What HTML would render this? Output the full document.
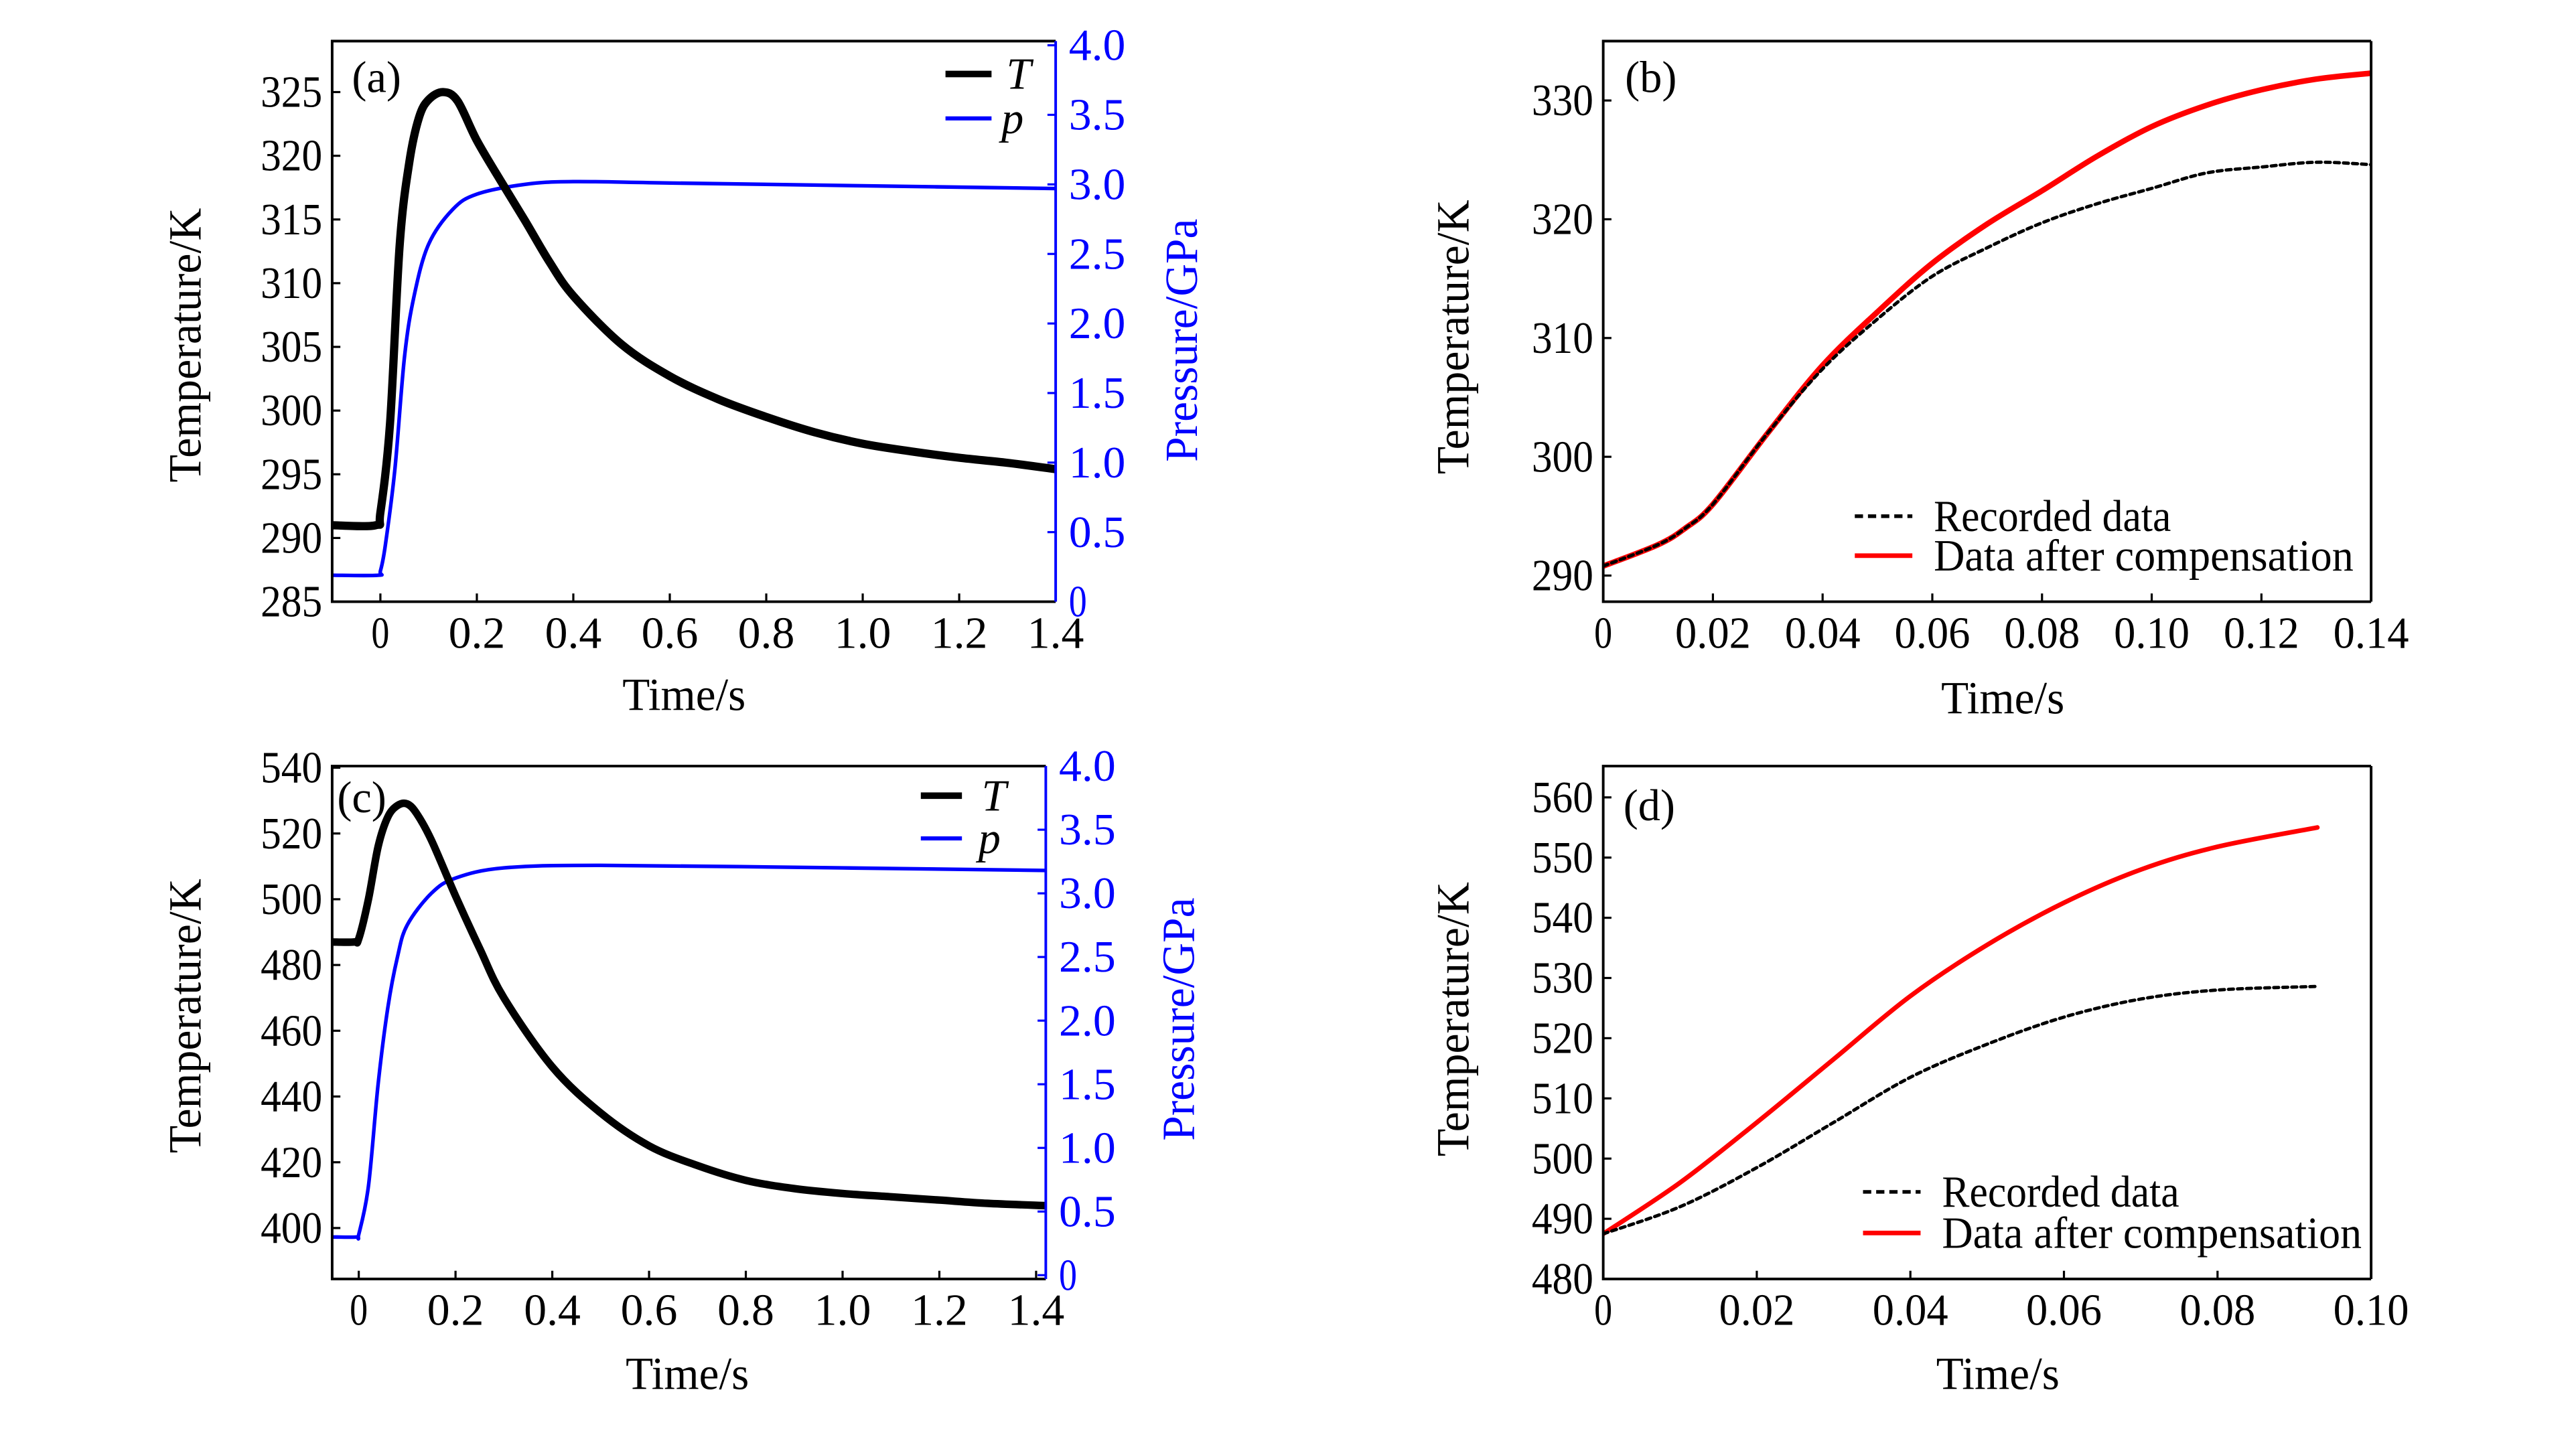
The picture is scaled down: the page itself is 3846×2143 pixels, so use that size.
<!DOCTYPE html>
<html><head><meta charset="utf-8"><style>
html,body{margin:0;padding:0;background:#fff}
svg{display:block}
text{font-family:"Liberation Serif",serif}
</style></head><body>
<svg id="fig" xmlns="http://www.w3.org/2000/svg" width="3846" height="2143" viewBox="0 0 1566.6 872.9">
<rect width="1566.6" height="872.9" fill="#fff"/>
</svg>
<script>
// ---- Panel (a) data ----
const aTx=[-0.1,-0.01,0.0,0.02,0.04,0.06,0.08,0.1,0.13,0.16,0.2,0.25,0.3,0.35,0.4,0.5,0.6,0.7,0.8,0.9,1.0,1.1,1.2,1.3,1.4];
const aTy=[291,291,292,299,313,319.5,323,324.4,325,324.3,321.2,318,314.9,311.7,309,305.2,302.7,300.9,299.5,298.3,297.4,296.8,296.3,295.9,295.4];
const aPx=[-0.1,-0.005,0.0,0.01,0.03,0.05,0.07,0.1,0.15,0.2,0.3,0.4,0.6,1.0,1.4];
const aPy=[0.19,0.19,0.22,0.4,0.95,1.76,2.2,2.57,2.82,2.93,3.0,3.02,3.01,2.99,2.97];
const aXt=["0","0.2","0.4","0.6","0.8","1.0","1.2","1.4"];
const aYt=["285","290","295","300","305","310","315","320","325"];
const aPt=["0","0.5","1.0","1.5","2.0","2.5","3.0","3.5","4.0"];
// ---- Panel (b) data ----
const bX=[0,0.01,0.015,0.02,0.03,0.04,0.05,0.06,0.07,0.08,0.09,0.1,0.11,0.12,0.13,0.14];
const bRed=[290.8,292.6,294,296,302,307.7,312.2,316.3,319.6,322.4,325.3,327.8,329.6,330.9,331.8,332.3];
const bRec=[290.8,292.6,294,296,302,307.4,311.6,315.2,317.6,319.7,321.3,322.6,323.9,324.4,324.8,324.6];
const bXt=["0","0.02","0.04","0.06","0.08","0.10","0.12","0.14"];
const bYt=["290","300","310","320","330"];
// ---- Panel (c) data ----
const cTx=[-0.055,-0.01,0.0,0.02,0.04,0.06,0.08,0.1,0.12,0.15,0.2,0.25,0.3,0.4,0.5,0.6,0.7,0.8,0.9,1.0,1.1,1.2,1.3,1.42];
const cTy=[487,487,488,500,516,525,528.5,529,526,518,501,485,470,449,435,425,419,414.5,412,410.5,409.5,408.5,407.5,406.8];
const cPx=[-0.055,-0.005,0.0,0.02,0.04,0.06,0.08,0.1,0.15,0.2,0.3,0.5,1.0,1.42];
const cPy=[0.3,0.3,0.32,0.7,1.5,2.1,2.5,2.75,3.0,3.12,3.2,3.22,3.2,3.18];
const cXt=["0","0.2","0.4","0.6","0.8","1.0","1.2","1.4"];
const cYt=["400","420","440","460","480","500","520","540"];
const cPt=["0","0.5","1.0","1.5","2.0","2.5","3.0","3.5","4.0"];
// ---- Panel (d) data ----
const dX=[0,0.01,0.02,0.03,0.04,0.05,0.06,0.07,0.08,0.093];
const dRed=[487.5,496,506,516.5,527,535.5,542.5,548,551.8,555];
const dRec=[487.5,492,498.5,506,513.5,519,523.5,526.5,528,528.6];
const dXt=["0","0.02","0.04","0.06","0.08","0.10"];
const dYt=["480","490","500","510","520","530","540","550","560"];

const NS="http://www.w3.org/2000/svg";
const svg=document.getElementById('fig');
function mk(tag,at,parent){const e=document.createElementNS(NS,tag);for(const k in at)e.setAttribute(k,at[k]);(parent||svg).appendChild(e);return e;}
function lin(d0,d1,r0,r1){return v=>r0+(v-d0)/(d1-d0)*(r1-r0);}
function pathD(xs,ys,sx,sy){
  const p=xs.map((x,i)=>[sx(x),sy(ys[i])]);
  let d="M"+p[0][0].toFixed(2)+","+p[0][1].toFixed(2);
  for(let i=0;i<p.length-1;i++){
    const p0=p[Math.max(0,i-1)],p1=p[i],p2=p[i+1],p3=p[Math.min(p.length-1,i+2)];
    const c1=[p1[0]+(p2[0]-p0[0])/6,p1[1]+(p2[1]-p0[1])/6];
    const c2=[p2[0]-(p3[0]-p1[0])/6,p2[1]-(p3[1]-p1[1])/6];
    d+="C"+c1[0].toFixed(2)+","+c1[1].toFixed(2)+" "+c2[0].toFixed(2)+","+c2[1].toFixed(2)+" "+p2[0].toFixed(2)+","+p2[1].toFixed(2);
  }
  return d;
}
function txt(x,y,s,opt,parent){
  const t=mk('text',Object.assign({x:x,y:y,'font-size':opt.fs||22,'text-anchor':opt.anchor||'middle',fill:opt.fill||'#000'},opt.extra||{}),parent);
  t.textContent=s;return t;
}
function panel(id,box,xr,yr,xt,yt,pr,pt){
  const g=mk('g',{});
  
  
  const sx=lin(xr[0],xr[1],box.l,box.r), sy=lin(yr[0],yr[1],box.b,box.t);
  const clip=mk('clipPath',{id:'clip-'+id},g);
  mk('rect',{x:box.l,y:box.t,width:box.r-box.l,height:box.b-box.t},clip);
  const plot=mk('g',{'clip-path':'url(#clip-'+id+')'},g);
  
  
  const xa=mk('g',{},g);
  
  
  xt.forEach(s=>{const v=parseFloat(s);const x=sx(v);
    mk('line',{x1:x,x2:x,y1:box.b,y2:box.b-5,stroke:'#000','stroke-width':1.3},xa);
    const t=txt(x,box.b+28,s,{fs:27,extra:{'textLength':s.length>1?s.length*11.5:11,'lengthAdjust':'spacingAndGlyphs'}},xa);
    
    
  });
  const ya=mk('g',{},g);
  
  
  yt.forEach(s=>{const v=parseFloat(s);const y=sy(v);
    mk('line',{x1:box.l,x2:box.l+5,y1:y,y2:y,stroke:'#000','stroke-width':1.3},ya);
    const t=txt(box.l-6,y+9,s,{fs:27,anchor:'end',extra:{'textLength':s.length*12.5,'lengthAdjust':'spacingAndGlyphs'}},ya);
    
    
  });
  let sp=null;
  if(pr){
    sp=lin(pr[0],pr[1],box.b,box.t);
    const pa=mk('g',{},g);
    
    
    pt.forEach(s=>{const v=parseFloat(s);const y=sp(v);
      mk('line',{x1:box.r,x2:box.r-5,y1:y,y2:y,stroke:'#0000ff','stroke-width':1.3},pa);
      const t=txt(box.r+8,y+9,s,{fs:27,anchor:'start',fill:'#0000ff',extra:{'textLength':s.length>1?s.length*11.5:11,'lengthAdjust':'spacingAndGlyphs'}},pa);
      
      
    });
  }
  mk('polyline',{points:`${box.r},${box.t} ${box.l},${box.t} ${box.l},${box.b} ${box.r},${box.b}`,fill:'none',stroke:'#000','stroke-width':1.6},g);
  mk('line',{x1:box.r,x2:box.r,y1:box.t,y2:box.b,stroke:pr?'#0000ff':'#000','stroke-width':1.6},g);
  return {g,plot,sx,sy,sp};
}
function series(P,xs,ys,scale,opts,name){
  const e=mk('path',Object.assign({d:pathD(xs,ys,P.sx,scale),fill:'none','stroke-linejoin':'round','stroke-linecap':'round'},opts),P.plot);
  
  
}
function legend(x1,x2,y,label,opts,tx,italic,name){
  const g=mk('g',{});
  
  
  mk('line',Object.assign({x1:x1,x2:x2,y1:y,y2:y},opts),g);
  txt(tx,y+9,label,{fs:27,anchor:'start',extra:italic?{'font-style':'italic'}:{'textLength':label.length*11.1,'lengthAdjust':'spacingAndGlyphs'}},g);
}
function title(x,y,s,rot,fill,name,len){
  const t=txt(x,y,s,{fs:28,fill:fill||'#000',extra:Object.assign(rot?{transform:`rotate(-90 ${x} ${y})`}:{},len?{'textLength':len,'lengthAdjust':'spacingAndGlyphs'}:{})});
  
  
}
// Panel a
const A=panel('a',{l:202,t:25,r:642,b:366},[-0.1,1.4],[285,329],aXt,aYt,[0,4.03],aPt);
series(A,aPx,aPy,A.sp,{stroke:'#0000ff','stroke-width':2.2},'pressure-line-a');
series(A,aTx,aTy,A.sy,{stroke:'#000','stroke-width':5},'temperature-line-a');
legend(575,603,45,'T',{stroke:'#000','stroke-width':4},612,true,'legend-T-a');
legend(575,603,72,'p',{stroke:'#0000ff','stroke-width':2.5},609,true,'legend-p-a');
txt(229,56,'(a)',{fs:27});
title(416,432,'Time/s',false,null,'x-axis-title-a',75);
title(122,210,'Temperature/K',true,null,'y-axis-title-a',167);
title(728,207,'Pressure/GPa',true,'#0000ff','pressure-axis-title-a',148);
// Panel b
const B=panel('b',{l:975,t:25,r:1442,b:366},[0,0.14],[287.8,335],bXt,bYt);
series(B,bX,bRed,B.sy,{stroke:'#ff0000','stroke-width':3.4},'compensated-line-b');
series(B,bX,bRec,B.sy,{stroke:'#000','stroke-width':2,'stroke-dasharray':'3 2.5'},'recorded-line-b');
legend(1128,1163,314,'Recorded data',{stroke:'#000','stroke-width':2.2,'stroke-dasharray':'5 3'},1176,false,'legend-recorded-b');
legend(1128,1163,338,'Data after compensation',{stroke:'#ff0000','stroke-width':2.8},1176,false,'legend-compensated-b');
txt(1004,56,'(b)',{fs:27});
title(1218,434,'Time/s',false,null,'x-axis-title-b',75);
title(893,205,'Temperature/K',true,null,'y-axis-title-b',167);
// Panel c
const C=panel('c',{l:202,t:466,r:636,b:778},[-0.055,1.42],[384.5,540.5],cXt,cYt,[-0.03,4.0],cPt);
series(C,cPx,cPy,C.sp,{stroke:'#0000ff','stroke-width':2.2},'pressure-line-c');
series(C,cTx,cTy,C.sy,{stroke:'#000','stroke-width':4.6},'temperature-line-c');
legend(560,585,484,'T',{stroke:'#000','stroke-width':4},597,true,'legend-T-c');
legend(560,585,510,'p',{stroke:'#0000ff','stroke-width':2.5},595,true,'legend-p-c');
txt(220,494,'(c)',{fs:27});
title(418,845,'Time/s',false,null,'x-axis-title-c',75);
title(122,618,'Temperature/K',true,null,'y-axis-title-c',167);
title(726,620,'Pressure/GPa',true,'#0000ff','pressure-axis-title-c',148);
// Panel d
const D=panel('d',{l:975,t:466,r:1442,b:778},[0,0.1],[480,565.2],dXt,dYt);
series(D,dX,dRed,D.sy,{stroke:'#ff0000','stroke-width':2.8},'compensated-line-d');
series(D,dX,dRec,D.sy,{stroke:'#000','stroke-width':2,'stroke-dasharray':'3 2.5'},'recorded-line-d');
legend(1133,1168,725,'Recorded data',{stroke:'#000','stroke-width':2.2,'stroke-dasharray':'5 3'},1181,false,'legend-recorded-d');
legend(1133,1168,750,'Data after compensation',{stroke:'#ff0000','stroke-width':2.8},1181,false,'legend-compensated-d');
txt(1003,499,'(d)',{fs:27});
title(1215,845,'Time/s',false,null,'x-axis-title-d',75);
title(893,620,'Temperature/K',true,null,'y-axis-title-d',167);
</script>
</body></html>
